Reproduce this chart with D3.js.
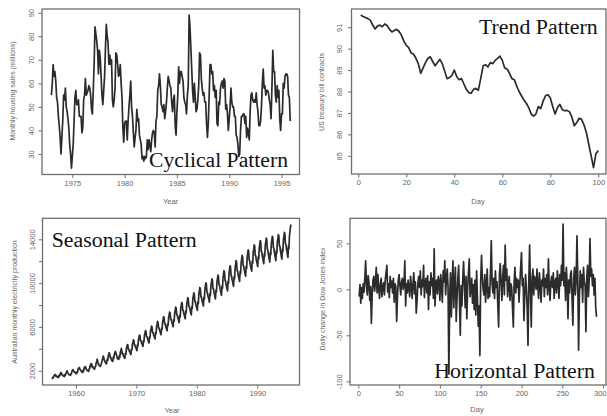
<!DOCTYPE html>
<html>
<head>
<meta charset="utf-8">
<script src="https://cdn.jsdelivr.net/npm/d3@7"></script>
<style>
  html, body { margin: 0; padding: 0; background: #fff; }
  svg { display: block; }
</style>
</head>
<body>
<svg id="chart" width="607" height="416"></svg>
<script>
// Monthly housing sales (millions), Jan 1973 - Nov 1995
const hsalesStart = 1973;
const hsales = [
  55, 60, 68, 63, 65, 61, 54, 52, 46, 42, 37, 30,
  37, 44, 55, 53, 58, 50, 48, 45, 41, 34, 30, 24,
  29, 34, 44, 54, 57, 51, 51, 53, 46, 46, 46, 39,
  41, 53, 55, 62, 55, 56, 57, 59, 58, 55, 49, 47,
  57, 68, 84, 81, 78, 74, 64, 74, 71, 63, 55, 51,
  57, 63, 75, 85, 80, 77, 68, 72, 68, 70, 53, 50,
  53, 58, 73, 72, 68, 63, 64, 68, 60, 54, 41, 35,
  43, 44, 44, 36, 44, 50, 55, 61, 50, 46, 39, 33,
  37, 40, 49, 44, 45, 38, 36, 34, 28, 29, 27, 29,
  28, 29, 36, 32, 36, 34, 31, 36, 39, 40, 39, 33,
  44, 46, 57, 59, 64, 59, 51, 50, 48, 51, 45, 48,
  52, 58, 63, 61, 59, 58, 52, 48, 53, 55, 42, 38,
  48, 55, 67, 60, 65, 65, 63, 61, 54, 52, 51, 47,
  55, 59, 89, 84, 75, 66, 57, 52, 60, 54, 48, 49,
  53, 59, 73, 72, 62, 58, 55, 56, 52, 52, 43, 37,
  43, 55, 68, 68, 64, 65, 57, 59, 54, 57, 43, 42,
  52, 51, 58, 60, 61, 58, 62, 61, 49, 51, 47, 40,
  45, 50, 58, 52, 50, 50, 46, 46, 38, 37, 34, 29,
  30, 40, 46, 46, 47, 47, 43, 46, 37, 41, 39, 36,
  48, 55, 56, 53, 52, 53, 52, 56, 51, 48, 42, 42,
  44, 50, 60, 66, 58, 59, 55, 57, 57, 56, 53, 51,
  45, 58, 74, 65, 65, 55, 52, 59, 54, 57, 45, 40,
  47, 47, 60, 58, 63, 64, 64, 63, 55, 54, 44
];

// US treasury bill contracts, days 1 - 100
const ustreas = [
  91.57, 91.50, 91.45, 91.40, 91.33, 91.10, 90.92, 91.05, 91.10, 91.02,
  91.15, 91.08, 90.90, 90.78, 90.85, 90.90, 90.80, 90.62, 90.35, 90.15,
  90.05, 89.80, 89.75, 89.55, 89.30, 88.85, 89.10, 89.35, 89.55, 89.62,
  89.40, 89.20, 89.35, 89.50, 89.30, 88.95, 88.60, 88.65, 88.75, 89.00,
  88.70, 88.55, 88.60, 88.35, 88.10, 87.95, 87.92, 88.10, 88.15, 88.05,
  88.60, 89.20, 89.25, 89.15, 89.35, 89.30, 89.45, 89.55, 89.65, 89.45,
  89.10, 89.05, 88.85, 88.60, 88.55, 88.25, 88.00, 87.80, 87.60, 87.45,
  87.25, 86.95, 86.85, 86.95, 87.30, 87.20, 87.55, 87.80, 87.85, 87.70,
  87.30, 86.95, 87.25, 87.40, 87.15, 87.10, 87.12, 87.05, 86.80, 86.40,
  86.55, 86.75, 86.70, 86.45, 86.10, 85.55, 85.00, 84.45, 85.10, 85.25
];

// Australian monthly electricity production, Jan 1956 - Aug 1995
const elecStart = 1956;
const elec = [
  1254, 1290, 1379, 1346, 1535, 1555, 1655, 1651, 1500, 1538, 1486, 1394,
  1409, 1387, 1543, 1502, 1693, 1616, 1841, 1787, 1631, 1649, 1586, 1500,
  1497, 1463, 1648, 1595, 1777, 1824, 1994, 1835, 1787, 1699, 1633, 1645,
  1597, 1577, 1709, 1756, 1936, 2052, 2105, 2016, 1914, 1925, 1824, 1765,
  1721, 1752, 1914, 1857, 2159, 2195, 2287, 2276, 2096, 2055, 2004, 1924,
  1851, 1839, 2019, 1937, 2270, 2251, 2382, 2364, 2129, 2110, 2072, 1980,
  1995, 1932, 2171, 2162, 2489, 2424, 2641, 2630, 2324, 2412, 2284, 2186,
  2184, 2144, 2379, 2383, 2717, 2774, 3051, 2891, 2613, 2600, 2493, 2410,
  2390, 2463, 2616, 2734, 2970, 3125, 3342, 3207, 2964, 2919, 2764, 2732,
  2622, 2698, 3056, 2950, 3358, 3497, 3653, 3483, 3203, 3222, 3044, 2914,
  2880, 2847, 3235, 3112, 3468, 3605, 3766, 3669, 3456, 3381, 3107, 3138,
  3040, 3039, 3376, 3210, 3656, 3830, 4040, 3834, 3511, 3589, 3370, 3301,
  3200, 3120, 3570, 3490, 4000, 4180, 4380, 4330, 3940, 3940, 3780, 3700,
  3570, 3480, 3960, 3880, 4420, 4600, 4820, 4760, 4340, 4350, 4170, 4080,
  3940, 3840, 4360, 4260, 4840, 5030, 5260, 5200, 4750, 4750, 4560, 4460,
  4320, 4220, 4740, 4640, 5230, 5430, 5650, 5590, 5120, 5120, 4920, 4820,
  4650, 4540, 5100, 4990, 5620, 5830, 6070, 5990, 5500, 5500, 5280, 5180,
  5020, 4900, 5490, 5370, 6030, 6250, 6500, 6420, 5910, 5900, 5680, 5570,
  5400, 5280, 5880, 5760, 6440, 6670, 6930, 6850, 6310, 6300, 6070, 5950,
  5770, 5650, 6280, 6150, 6850, 7090, 7360, 7270, 6710, 6710, 6470, 6340,
  6140, 6010, 6670, 6530, 7270, 7520, 7800, 7710, 7120, 7110, 6850, 6720,
  6520, 6380, 7060, 6920, 7690, 7940, 8230, 8130, 7520, 7510, 7240, 7100,
  6890, 6740, 7450, 7310, 8100, 8360, 8670, 8570, 7920, 7910, 7630, 7480,
  7250, 7100, 7840, 7690, 8520, 8790, 9110, 9000, 8330, 8320, 8030, 7870,
  7670, 7510, 8280, 8120, 8990, 9270, 9600, 9490, 8790, 8770, 8470, 8300,
  8080, 7910, 8690, 8520, 9400, 9690, 10020, 9900, 9180, 9160, 8840, 8680,
  8440, 8260, 9050, 8880, 9770, 10050, 10380, 10260, 9520, 9490, 9170, 8990,
  8730, 8550, 9370, 9190, 10100, 10390, 10740, 10610, 9860, 9840, 9510, 9330,
  9060, 8880, 9720, 9540, 10470, 10780, 11130, 11010, 10240, 10230, 9890, 9710,
  9470, 9290, 10140, 9960, 10910, 11220, 11580, 11460, 10680, 10660, 10320, 10140,
  9890, 9710, 10570, 10390, 11360, 11680, 12050, 11930, 11140, 11120, 10780, 10600,
  10340, 10150, 11040, 10850, 11840, 12170, 12540, 12410, 11610, 11600, 11250, 11060,
  10820, 10630, 11520, 11330, 12330, 12660, 13040, 12910, 12090, 12070, 11710, 11520,
  11280, 11090, 11980, 11790, 12800, 13120, 13500, 13360, 12530, 12500, 12140, 11940,
  11710, 11500, 12400, 12190, 13200, 13520, 13890, 13750, 12900, 12870, 12490, 12280,
  12000, 11780, 12670, 12450, 13450, 13760, 14120, 13960, 13100, 13060, 12670, 12450,
  12140, 11920, 12810, 12590, 13600, 13910, 14280, 14120, 13260, 13210, 12820, 12600,
  12270, 12050, 12960, 12740, 13760, 14070, 14440, 14280, 13410, 13370, 12970, 12750,
  12400, 12190, 13110, 12890, 13930, 14250, 14630, 14470, 13590, 13550, 13160, 12940,
  12600, 12350, 13400, 13150, 14250, 14700, 15100, 15350
];

// Daily change in Dow Jones index, days 1 - 292
const djChange = [
  -8, 5, -15, 2, -10, 6, -3, 12, 31, 4, -6, 15, 8, -12, 3, -37, -5, 10, 14, -2,
  8, 24, -4, 16, 2, -10, 5, 12, -8, 3, 7, -6, 10, 18, 26, -3, 6, -9, 14, 2,
  9, -4, 12, -14, 6, 3, -35, -8, 10, 16, 4, -6, 8, 12, 0, 5, 31, -18, 6, -4,
  10, 2, -8, 14, 4, -10, 6, 18, -5, 8, -26, -12, 6, 14, 2, 20, -6, 10, 3, 26,
  -9, 7, 12, -4, 15, -22, 8, -6, 18, 4, 12, -10, 44, -18, 6, 10, -5, 14, 8, -12,
  16, 4, -14, 20, 8, 31, -6, 12, 22, 2, -92, -10, 18, -30, 6, 31, -20, 8, 24, -35,
  -8, 12, 26, -12, -50, 4, -18, 10, 30, 6, -20, 14, -32, 2, 18, 33, -8, 0, 12, -15,
  5, -22, 10, -28, 20, -10, -40, -18, -72, 8, 37, 12, 0, -6, 16, -14, 4, 22, -10, 2,
  -8, 18, 53, 6, -4, 12, -10, 20, 2, 8, -18, -41, 16, 28, 6, -12, 14, 26, -6, 48,
  10, 22, -8, 4, 14, -12, 6, 2, -20, -41, 8, 24, -4, 12, 2, 10, -14, 6, 24, 40,
  4, 12, -34, -8, 16, 2, -20, -61, 10, 48, -4, -41, 12, 22, -6, 14, 8, 0, 22, 4,
  -10, 18, 6, -14, 10, 4, 22, -8, 12, 2, 16, -6, 33, 4, -12, 8, 14, 2, 18, -10,
  6, 12, -4, 20, 8, -10, 16, 4, 26, 10, 71, 4, 18, -12, 24, 6, -32, 10, -4, 16,
  20, -10, -39, 12, 24, -6, 8, 58, 14, -66, -8, 20, 2, 16, -14, 24, 8, 4, -46, 12,
  26, -8, 10, 55, 14, 22, 4, 16, -6, 12, -20, -30
];

// Axis ticks
const hsalesYearTicks = [1975, 1980, 1985, 1990, 1995];
const hsalesValueTicks = [30, 40, 50, 60, 70, 80, 90];
const ustreasDayTicks = [0, 20, 40, 60, 80, 100];
const ustreasValueTicks = [85, 86, 87, 88, 89, 90, 91];
const elecYearTicks = [1960, 1970, 1980, 1990];
const elecValueTicks = [2000, 4000, 6000, 8000, 10000, 12000, 14000];
const elecValueLabels = [2000, 6000, 10000, 14000];
const djDayTicks = [0, 50, 100, 150, 200, 250, 300];
const djValueTicks = [-100, -50, 0, 50];

const svg = d3.select("#chart");
const tickFont = "'Liberation Sans', Arial, sans-serif";
const titleFont = "'Liberation Serif', 'Times New Roman', serif";
const chartWidth = 607;

function drawPanel(p) {
  const x = d3.scaleLinear().domain(p.xDomain).range([p.box.l, p.box.r]);
  const y = d3.scaleLinear().domain(p.yDomain).range([p.box.b, p.box.t]);
  const g = svg.append("g");

  // series line
  g.append("path")
    .datum(p.values)
    .attr("fill", "none")
    .attr("stroke", "#2b2b2b")
    .attr("stroke-width", 1.7)
    .attr("stroke-linejoin", "round")
    .attr("d", d3.line().x((d, i) => x(p.xAt(i))).y(d => y(d)));

  // frame
  g.append("rect")
    .attr("x", p.box.l).attr("y", p.box.t)
    .attr("width", p.box.r - p.box.l).attr("height", p.box.b - p.box.t)
    .attr("fill", "none").attr("stroke", "#6f6f6f").attr("stroke-width", 1.3);

  // x axis
  const xa = g.append("g")
    .attr("transform", `translate(0,${p.box.b})`)
    .call(d3.axisBottom(x).tickValues(p.xTicks).tickSize(3.5).tickPadding(2.5)
      .tickFormat(d3.format("d")));
  xa.select(".domain").remove();
  xa.selectAll("line").attr("stroke", "#6f6f6f").attr("stroke-width", 1);
  xa.selectAll("text").attr("font-family", tickFont).attr("font-size", 7.5)
    .attr("fill", "#666")
    .attr("text-anchor", d => x(d) + 8 > chartWidth ? "end" : "middle")
    .attr("dx", d => x(d) + 8 > chartWidth ? 3 : 0);

  // y axis with labels parallel to the axis
  const ya = g.append("g")
    .attr("transform", `translate(${p.box.l},0)`)
    .call(d3.axisLeft(y).tickValues(p.yTicks).tickSize(3.5)
      .tickFormat(d => p.yLabels.includes(d) ? String(d) : ""));
  ya.select(".domain").remove();
  ya.selectAll("line").attr("stroke", "#6f6f6f").attr("stroke-width", 1);
  ya.selectAll("text")
    .attr("x", 0).attr("y", -p.yLabelOffset).attr("dy", 0)
    .attr("transform", "rotate(-90)")
    .attr("text-anchor", "middle")
    .attr("font-family", tickFont).attr("font-size", 7.5).attr("fill", "#666");

  // axis titles
  g.append("text")
    .attr("x", p.xTitlePos[0]).attr("y", p.xTitlePos[1])
    .attr("text-anchor", "middle")
    .attr("font-family", tickFont).attr("font-size", 7.5).attr("fill", "#666")
    .text(p.xTitle);
  g.append("text")
    .attr("transform", `translate(${p.yTitlePos[0]},${p.yTitlePos[1]}) rotate(-90)`)
    .attr("text-anchor", "middle")
    .attr("font-family", tickFont).attr("font-size", 7).attr("fill", "#666")
    .text(p.yTitle);

  // pattern caption
  g.append("text")
    .attr("x", p.caption.x).attr("y", p.caption.y)
    .attr("font-family", titleFont).attr("font-size", 20.5).attr("fill", "#111")
    .attr("textLength", p.caption.len).attr("lengthAdjust", "spacingAndGlyphs")
    .text(p.caption.text);
}

drawPanel({
  values: hsales,
  xAt: i => hsalesStart + i / 12,
  box: { l: 42, r: 299.5, t: 9, b: 174.5 },
  xDomain: [1972.10, 1996.72], yDomain: [21.3, 91.57],
  xTicks: hsalesYearTicks, yTicks: hsalesValueTicks, yLabels: hsalesValueTicks,
  yLabelOffset: 8,
  xTitle: "Year", xTitlePos: [170.5, 204],
  yTitle: "Monthly housing sales (millions)", yTitlePos: [15, 91],
  caption: { text: "Cyclical Pattern", x: 149, y: 167, len: 139 }
});

drawPanel({
  values: ustreas,
  xAt: i => i + 1,
  box: { l: 351.5, r: 606, t: 9, b: 174 },
  xDomain: [-2.83, 103.2], yDomain: [84.15, 91.85],
  xTicks: ustreasDayTicks, yTicks: ustreasValueTicks, yLabels: ustreasValueTicks,
  yLabelOffset: 9.5,
  xTitle: "Day", xTitlePos: [478, 204],
  yTitle: "US treasury bill contracts", yTitlePos: [324, 92],
  caption: { text: "Trend Pattern", x: 479, y: 34, len: 118.7 }
});

drawPanel({
  values: elec,
  xAt: i => elecStart + i / 12,
  box: { l: 42.5, r: 299.5, t: 218.3, b: 385 },
  xDomain: [1954.45, 1997.0], yDomain: [694, 15918],
  xTicks: elecYearTicks, yTicks: elecValueTicks, yLabels: elecValueLabels,
  yLabelOffset: 7.5,
  xTitle: "Year", xTitlePos: [172, 413],
  yTitle: "Australian monthly electricity production", yTitlePos: [17, 302],
  caption: { text: "Seasonal Pattern", x: 51.7, y: 246.7, len: 145 }
});

drawPanel({
  values: djChange,
  xAt: i => i + 1,
  box: { l: 350, r: 606, t: 218.3, b: 385 },
  xDomain: [-10.2, 303.6], yDomain: [-104, 77.2],
  xTicks: djDayTicks, yTicks: djValueTicks, yLabels: djValueTicks,
  yLabelOffset: 8.5,
  xTitle: "Day", xTitlePos: [477, 412],
  yTitle: "Daily change in Dow Jones index", yTitlePos: [325, 299],
  caption: { text: "Horizontal Pattern", x: 434.3, y: 377.7, len: 160.7 }
});
</script>
</body>
</html>
